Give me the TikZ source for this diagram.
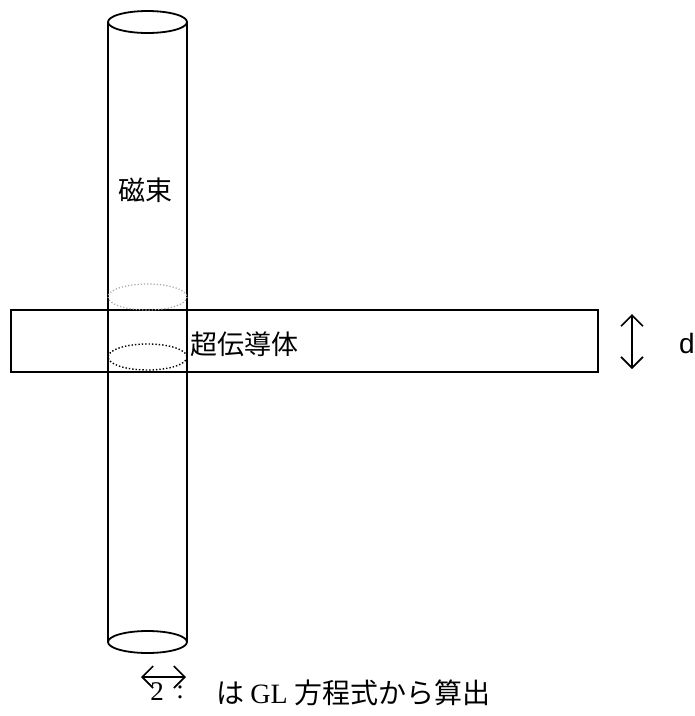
\documentclass[tikz,border=0pt]{standalone}
\usepackage{fontspec}
\setmainfont{Liberation Serif}
\newfontfamily\jpfont{Noto Sans CJK JP}
\newfontfamily\sansfont{Liberation Sans}
\usetikzlibrary{arrows.meta}
\tikzset{
  solidline/.style={line width=1.8pt, black},
  dotgray/.style={line width=1.2pt, gray!70, dotted},
  dotblack/.style={line width=1.4pt, black, dotted},
  barb/.style={line width=1.6pt, {Straight Barb[length=11pt,width=22pt,line width=1.6pt]}-{Straight Barb[length=11pt,width=22pt,line width=1.6pt]}},
  jptext/.style={font=\jpfont\fontsize{27}{30}\selectfont, inner sep=0pt},
}
\begin{document}
\begin{tikzpicture}[x=1pt,y=-1pt]
\useasboundingbox (0,0) rectangle (695,716);
% flux tube
\draw[solidline] (108,22) -- (108,642);
\draw[solidline] (187,22) -- (187,642);
\draw[solidline] (147.5,22) ellipse [x radius=39.5, y radius=11];
\draw[solidline] (147.5,642) ellipse [x radius=39.5, y radius=11];
% superconductor slab
\draw[solidline] (11,310) rectangle (598,372);
% dotted cross sections
\draw[dotgray] (147.5,297) ellipse [x radius=39.5, y radius=13];
\draw[dotblack] (147.5,357) ellipse [x radius=39.5, y radius=13];
% labels
\node[jptext] (flux) at (145,190) {磁束};
\node[jptext, anchor=west] (sc) at (190,344) {超伝導体};
% thickness arrow
\coordinate (dtop) at (632,314);
\coordinate (dbot) at (632,369);
\draw[barb] (dtop) -- (dbot);
\node[font=\sansfont\fontsize{28}{30}\selectfont, inner sep=0pt] (d) at (687,343) {d};
% bottom legend
\coordinate (la) at (141,677);
\coordinate (lb) at (186,677);
\draw[barb] (la) -- (lb);
\node[font=\fontsize{27}{29}\selectfont, inner sep=0pt] (two) at (157,692) {2};
\node[font=\fontsize{27}{29}\selectfont, inner sep=0pt] (colon) at (180,692) {:};
\node[anchor=west, inner sep=0pt] (legend) at (216,693)
  {\jpfont\fontsize{28}{31}\selectfont は {\rmfamily\fontsize{28}{31}\selectfont GL} 方程式から算出};
\end{tikzpicture}
\end{document}
